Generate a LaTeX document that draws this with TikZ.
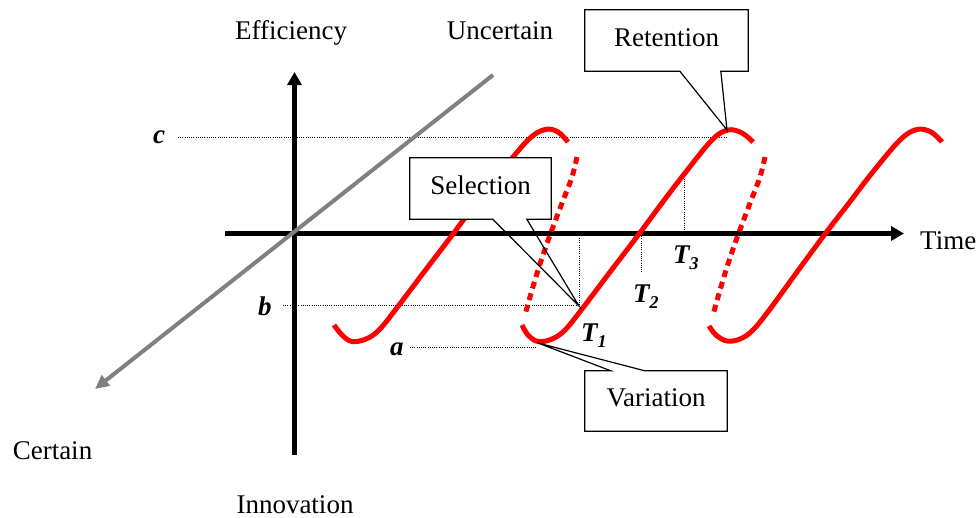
\documentclass[tikz,border=0pt]{standalone}
\usepackage{fontspec}
\setmainfont{Liberation Serif}
\usetikzlibrary{arrows.meta,calc}
\definecolor{curvered}{RGB}{255,0,0}
\definecolor{axisgrey}{RGB}{128,128,128}
\begin{document}
\begin{tikzpicture}[x=1pt,y=-1pt,
  txt/.style={font=\fontsize{27}{30}\selectfont, inner sep=0pt},
  lbl/.style={font=\fontsize{27}{30}\selectfont\bfseries\itshape, inner sep=0pt},
  guide/.style={line width=0.9pt, dash pattern=on 1pt off 1.2pt},
  axisline/.style={line width=4.5pt, -{Triangle[length=13pt,width=14pt]}},
  greyline/.style={draw=axisgrey, line width=4pt, -{Triangle[length=14pt,width=13pt]}},
  redsolid/.style={draw=curvered, line width=5pt},
  reddash/.style={draw=curvered, line width=5pt, dash pattern=on 7pt off 5pt},
  callbox/.style={fill=white, inner sep=0pt, font=\fontsize{27}{30}\selectfont, text height=20pt, text depth=8.5pt},
  callline/.style={line width=1.2pt, line join=miter}
]
\useasboundingbox (0,0) rectangle (979,517);

% guide lines
\coordinate (cs) at (178,137);   \coordinate (ce) at (727,137);
\coordinate (bs) at (283,305);   \coordinate (be) at (579,305);
\coordinate (as) at (410,347);   \coordinate (ae) at (537,347);
\coordinate (t1top) at (579,238); \coordinate (t2top) at (641.5,234); \coordinate (t3top) at (684,172);
\coordinate (t2bot) at (641.5,273); \coordinate (t3bot) at (684,234);
\draw[guide] (cs) -- (ce);
\draw[guide] (bs) -- (be);
\draw[guide] (as) -- (ae);
\draw[guide] (t1top) -- (be);
\draw[guide] (t2top) -- (t2bot);
\draw[guide] (t3top) -- (t3bot);

% axes
\coordinate (ybot) at (294.5,455); \coordinate (ytop) at (294.5,72);
\coordinate (xleft) at (225,233.5); \coordinate (xright) at (904,233.5);
\draw[axisline] (ybot) -- (ytop);
\draw[axisline] (xleft) -- (xright);

% red curves
\draw[redsolid] plot[smooth, tension=0.6] coordinates {(334,325) (342,335) (352,341.5) (366,339) (379,330) (396,309) (424,272) (453,234) (476,203) (500,173) (528,140) (545,129.5) (558,132) (568,142)};
\draw[reddash] plot[smooth, tension=0.6] coordinates {(577,157) (572,177) (564,198) (550,235) (539,267) (530,297) (525,315)};
\draw[redsolid] plot[smooth, tension=0.6] coordinates {(522,325) (528,335) (538,341.5) (552,339) (565,330) (582,309) (610,272) (639,234) (662,203) (685,173) (712,140) (728,130) (742,133) (753,142)};
\draw[reddash] plot[smooth, tension=0.6] coordinates {(765,157) (760,177) (752,198) (738,235) (727,267) (718,297) (713,315)};
\draw[redsolid] plot[smooth, tension=0.6] coordinates {(709,326) (716,335) (727,341) (740,339) (753,330) (770,309) (797,272) (825,234) (849,203) (872,173) (900,140) (917,129.5) (931,132) (942,142)};

% grey diagonal
\coordinate (gtop) at (493,75); \coordinate (gtip) at (95,389);
\draw[greyline] (gtop) -- (gtip);

% callouts
\node[callbox, minimum width=163pt, minimum height=61pt] (ret) at (666.5,40.5) {Retention};
\coordinate (rettip) at (727,130);
\draw[callline] ($(ret.south west)+(95,0)$) -- (ret.south west) -- (ret.north west) -- (ret.north east) -- (ret.south east) -- ($(ret.south west)+(136,0)$) -- (rettip) -- cycle;

\node[callbox, minimum width=141pt, minimum height=61pt] (sel) at (480.5,188.5) {Selection};
\coordinate (seltip) at (579,306);
\draw[callline] ($(sel.south west)+(83,0)$) -- (sel.south west) -- (sel.north west) -- (sel.north east) -- (sel.south east) -- ($(sel.south west)+(117,0)$) -- (seltip) -- cycle;

\node[callbox, minimum width=142pt, minimum height=60pt] (var) at (656,401) {Variation};
\coordinate (vartip) at (538,343);
\draw[callline] ($(var.north west)+(26,0)$) -- (var.north west) -- (var.south west) -- (var.south east) -- (var.north east) -- ($(var.north west)+(60,0)$) -- (vartip) -- cycle;

% text labels
\node[txt, anchor=base] (eff) at (291,39) {Efficiency};
\node[txt, anchor=base] (unc) at (500,39) {Uncertain};
\node[txt, anchor=base] (cer) at (52.5,459) {Certain};
\node[txt, anchor=base] (inn) at (295,513) {Innovation};
\node[txt, anchor=base west] (time) at (920,249) {Time};
\node[lbl, anchor=base west] (clbl) at (153,143) {c};
\node[lbl, anchor=base west] (blbl) at (258,315) {b};
\node[lbl, anchor=base west] (albl) at (390,355) {a};
\node[lbl, anchor=base west] (t1) at (581,341) {T\raisebox{-6pt}{\fontsize{18}{18}\selectfont 1}};
\node[lbl, anchor=base west] (t2) at (633,302) {T\raisebox{-6pt}{\fontsize{18}{18}\selectfont 2}};
\node[lbl, anchor=base west] (t3) at (673,263) {T\raisebox{-6pt}{\fontsize{18}{18}\selectfont 3}};
\end{tikzpicture}
\end{document}
